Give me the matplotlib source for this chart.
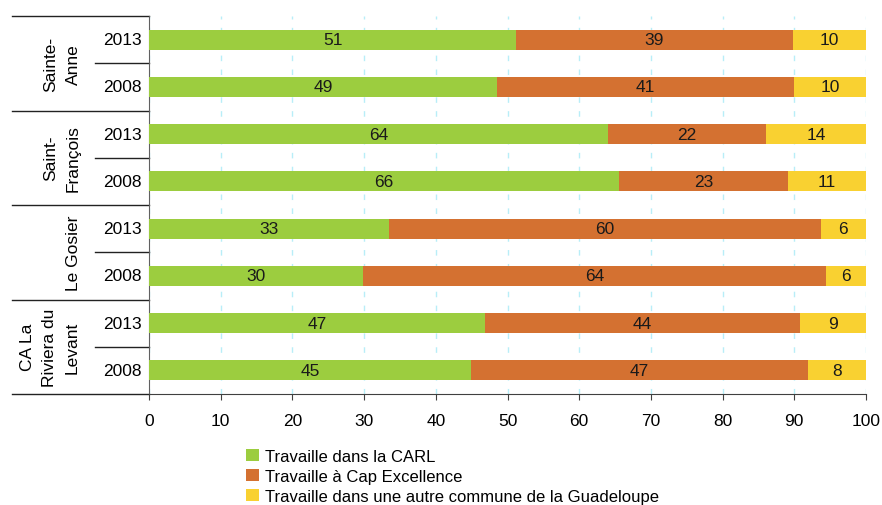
import matplotlib
matplotlib.use("Agg")
import matplotlib.pyplot as plt
import numpy as np

plt.rcParams['font.family'] = ['Liberation Sans', 'DejaVu Sans']

groups = ["Sainte-\nAnne", "Saint-\nFrançois", "Le Gosier", "CA La\nRiviera du\nLevant"]
years = ["2013", "2008"]
series_names = ["Travaille dans la CARL", "Travaille à Cap Excellence",
                "Travaille dans une autre commune de la Guadeloupe"]
# order: SA 2013, SA 2008, SF 2013, SF 2008, LG 2013, LG 2008, CA 2013, CA 2008
carl = [51.2, 48.5, 64.0, 65.6, 33.5, 29.8, 46.9, 44.9]
cap = [38.6, 41.5, 22.1, 23.5, 60.2, 64.6, 43.9, 47.0]
autre = [10.2, 10.0, 13.9, 10.9, 6.3, 5.6, 9.2, 8.1]
carl_lbl = [51, 49, 64, 66, 33, 30, 47, 45]
cap_lbl = [39, 41, 22, 23, 60, 64, 44, 47]
autre_lbl = [10, 10, 14, 11, 6, 6, 9, 8]
colors = ["#9ccd3f", "#d47131", "#f9d131"]

fig = plt.figure(figsize=(8.82, 5.06), dpi=100)
W = 866 - 149
ax = fig.add_axes([149/882, 1-395/506, W/882, (395-17)/506])

n = len(carl)
y = np.arange(n)
left = np.zeros(n)
for vals, lbls, c, name in zip([carl, cap, autre], [carl_lbl, cap_lbl, autre_lbl], colors, series_names):
    bars = ax.barh(y, vals, left=left, height=0.42, color=c, label=name, zorder=3)
    ax.bar_label(bars, labels=[str(v) for v in lbls], label_type='center', fontsize=12.5, color='#1a1a1a')
    left = left + np.array(vals)

ax.set_ylim(n - 0.5, -0.5)
ax.set_xlim(0, 100)
ax.set_xticks(np.arange(0, 101, 10))
ax.tick_params(axis='x', labelsize=12.5, length=4, color='#404040', pad=10)
ax.set_yticks([])
for s in ['top', 'right']:
    ax.spines[s].set_visible(False)
ax.spines['left'].set_color('#606060')
ax.spines['bottom'].set_color('#404040')
ax.xaxis.grid(True, color='#b8eef8', linestyle=(0, (4, 6)), linewidth=1, zorder=0)

# left label table
trans = ax.get_yaxis_transform()
line_kw = dict(color='#222222', linewidth=1, clip_on=False, transform=trans)
for k in range(len(groups) + 1):
    yy = -0.5 + 2*k
    ax.plot([-(149-12)/W, 0], [yy, yy], **line_kw)
for k in range(len(groups)):
    yy = 0.5 + 2*k
    ax.plot([-(149-95)/W, 0], [yy, yy], **line_kw)
for i in range(n):
    ax.text(-(149-122)/W, i, years[i % 2], transform=trans, ha='center', va='center', fontsize=12.5)
gx = [62, 62, 73, 50]
for g, name in enumerate(groups):
    ax.text(-(149-gx[g])/W, 2*g + 0.5, name, transform=trans, ha='center', va='center',
            rotation=90, fontsize=12.5, linespacing=1.6, multialignment='center')

fig.legend(loc='upper left', bbox_to_anchor=(246/882, 1-450/506), frameon=False,
           fontsize=12, handlelength=0.75, handleheight=0.75, handletextpad=0.4,
           labelspacing=0.3, borderpad=0, borderaxespad=0)

fig.savefig("out.png", dpi=100)
